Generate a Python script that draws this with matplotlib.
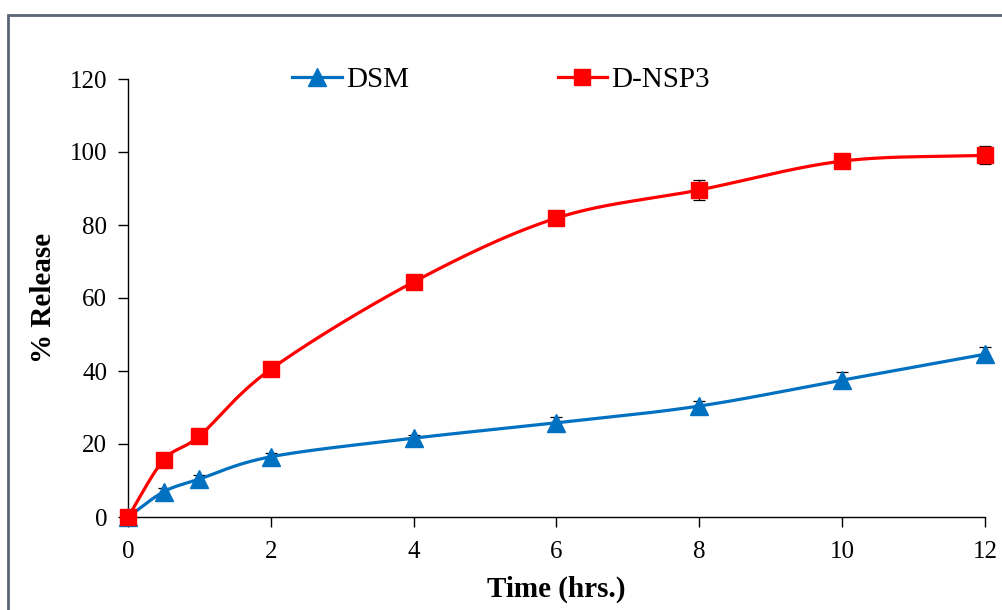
import numpy as np
import matplotlib
matplotlib.use("Agg")
import matplotlib.pyplot as plt
from matplotlib.patches import Rectangle
from matplotlib.lines import Line2D

time = [0, 0.5, 1, 2, 4, 6, 8, 10, 12]
dsm = [0, 6.9, 10.4, 16.5, 21.6, 25.8, 30.4, 37.5, 44.6]
dsm_err = [0.3, 1.0, 1.0, 1.0, 1.0, 1.6, 1.5, 2.2, 1.9]
dnsp3 = [0, 15.6, 22.2, 40.5, 64.4, 81.9, 89.6, 97.5, 99.1]
dnsp3_err = [0.3, 0.8, 0.8, 0.8, 0.8, 1.5, 2.7, 1.0, 2.5]
xticks = [0, 2, 4, 6, 8, 10, 12]
yticks = [0, 20, 40, 60, 80, 100, 120]

plt.rcParams['font.family'] = ['Liberation Serif', 'DejaVu Serif']


def smooth(x, y, n=30):
    # Catmull-Rom spline through the data points (Excel-style smoothed line)
    x = np.asarray(x, float)
    y = np.asarray(y, float)
    P = np.column_stack([x, y])
    P = np.vstack([2 * P[0] - P[1], P, 2 * P[-1] - P[-2]])
    out = []
    t = np.linspace(0, 1, n)[:, None]
    for i in range(1, len(P) - 2):
        p0, p1, p2, p3 = P[i - 1], P[i], P[i + 1], P[i + 2]
        seg = 0.5 * ((2 * p1) + (-p0 + p2) * t + (2 * p0 - 5 * p1 + 4 * p2 - p3) * t ** 2
                     + (-p0 + 3 * p1 - 3 * p2 + p3) * t ** 3)
        out.append(seg)
    out = np.vstack(out)
    return out[:, 0], out[:, 1]


fig = plt.figure(figsize=(10.03, 6.10), dpi=100)
fig.patches.append(Rectangle((8 / 1003, -0.1), 1.2, 1 - 15 / 610 + 0.1, transform=fig.transFigure,
                             fill=False, edgecolor='#5b6576', linewidth=2.0))
ax = fig.add_axes([128 / 1003, 1 - 517 / 610, (985 - 128) / 1003, (517 - 79) / 610])

blue = '#0070C0'
red = '#FF0000'

for ys, err, col, mk, ms in [(dsm, dsm_err, blue, '^', 13), (dnsp3, dnsp3_err, red, 's', 11.5)]:
    sx, sy = smooth(time, ys)
    ax.plot(sx, sy, color=col, lw=2.3, clip_on=False, zorder=3)
    ax.errorbar(time, ys, yerr=err, fmt='none', ecolor='black', elinewidth=0.9, capsize=4,
                capthick=0.9, clip_on=False, zorder=2)
    ax.plot(time, ys, linestyle='none', marker=mk, markersize=ms, color=col, clip_on=False, zorder=4)

ax.set_xlim(0, 12)
ax.set_ylim(0, 120)
ax.set_xticks(xticks)
ax.set_yticks(yticks)
ax.spines['top'].set_visible(False)
ax.spines['right'].set_visible(False)
for s in ['left', 'bottom']:
    ax.spines[s].set_linewidth(1.0)
ax.tick_params(direction='out', length=7, width=1.0, labelsize=18, pad=8)
ax.tick_params(axis='x', pad=10.5)

ax.set_xlabel('Time (hrs.)', fontsize=21, fontweight='bold', labelpad=9)
ax.set_ylabel('% Release', fontsize=21, fontweight='bold', labelpad=9)

h1 = Line2D([], [], color=blue, lw=2.3, marker='^', markersize=13)
h2 = Line2D([], [], color=red, lw=2.3, marker='s', markersize=11.5)
fig.legend([h1, h2], ['DSM', 'D-NSP3'], ncol=2, frameon=False, fontsize=21,
           loc='center left', bbox_to_anchor=(292 / 1003, 1 - 80 / 610),
           columnspacing=5.1, handlelength=1.7, handletextpad=0.15, borderaxespad=0,
           borderpad=0)

fig.savefig('out.png', dpi=100)
